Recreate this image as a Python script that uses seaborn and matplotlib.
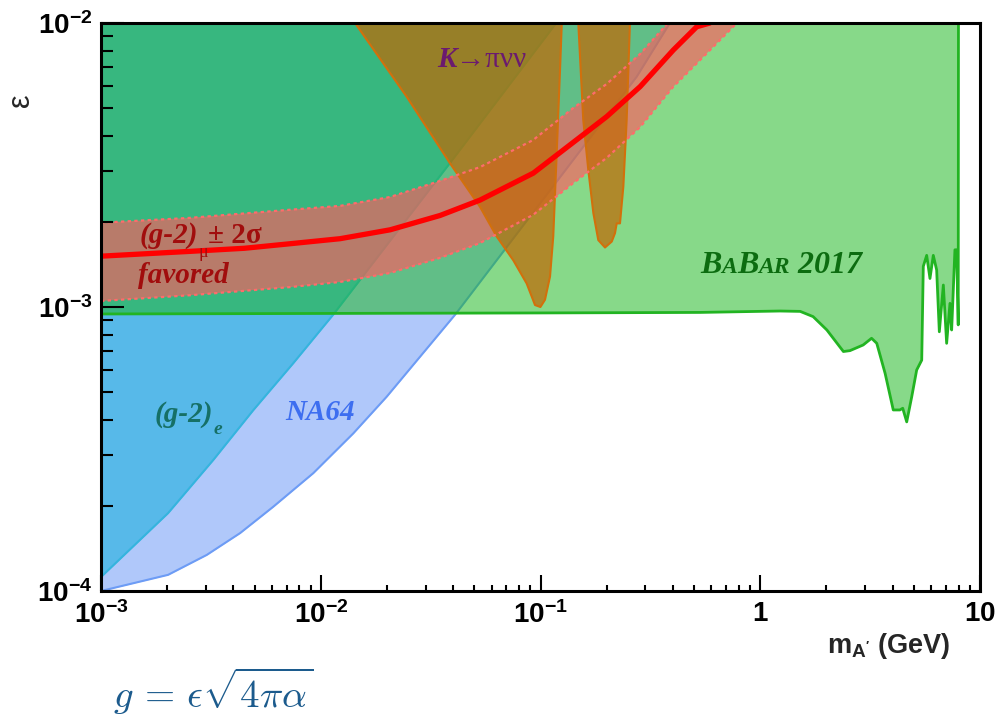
import numpy as np
import matplotlib
matplotlib.use("Agg")
import matplotlib.pyplot as plt
import seaborn as sns
from matplotlib.ticker import FixedLocator, FixedFormatter, LogLocator, NullFormatter

# dark photon exclusion plot: m_A' (GeV) vs epsilon

# NA64 limit (region above the line is excluded)
na64_m = [1e-3, 2.02e-3, 3.03e-3, 4.3e-3, 6.08e-3, 9.25e-3, 0.01407, 0.01995, 0.0283, 0.0409, 0.274, 0.388]
na64_eps = [1.0e-4, 1.14e-4, 1.34e-4, 1.6e-4, 1.98e-4, 2.6e-4, 3.59e-4, 4.83e-4, 6.68e-4, 9.4e-4, 6.47e-3, 1.0e-2]

# electron g-2 limit
g2e_m = [1e-3, 2.02e-3, 3.24e-3, 4.93e-3, 7.5e-3, 0.0114, 0.0387, 0.118]
g2e_eps = [1.12e-4, 1.88e-4, 2.89e-4, 4.33e-4, 6.34e-4, 9.4e-4, 3.21e-3, 1.0e-2]

# BaBar 2017 lower edge of the excluded region
babar_m = [1e-3, 0.1, 0.532, 1.23, 1.52, 1.74, 2.01, 2.39, 2.56, 2.94, 3.21, 3.39, 3.70, 4.03,
           4.32, 4.45, 4.64, 4.89, 5.15, 5.43, 5.52, 5.72, 5.92, 6.13, 6.35, 6.53, 6.81, 7.05,
           7.30, 7.43, 7.69, 7.83, 7.96, 7.98]
babar_eps = [9.45e-4, 9.53e-4, 9.57e-4, 9.68e-4, 9.65e-4, 9.25e-4, 8.3e-4, 6.97e-4, 7.02e-4,
             7.35e-4, 7.76e-4, 7.45e-4, 5.84e-4, 4.34e-4, 4.34e-4, 4.4e-4, 3.94e-4, 4.83e-4,
             6.0e-4, 6.5e-4, 1.39e-3, 1.52e-3, 1.26e-3, 1.52e-3, 1.35e-3, 8.18e-4, 1.195e-3,
             7.45e-4, 1.03e-3, 8.3e-4, 1.59e-3, 1.59e-3, 8.65e-4, 1.0e-2]

# K -> pi nu nu, two islands
k1_m = [0.01432, 0.0246, 0.0387, 0.0531, 0.0632, 0.0752, 0.0865, 0.0944, 0.0999, 0.1048,
        0.1105, 0.1143, 0.1185, 0.1227, 0.125]
k1_eps = [1.0e-2, 5.5e-3, 3.21e-3, 2.25e-3, 1.77e-3, 1.46e-3, 1.21e-3, 1.016e-3, 1.0e-3,
          1.06e-3, 1.28e-3, 1.77e-3, 3.47e-3, 6.83e-3, 1.0e-2]
k2_m = [0.1486, 0.1565, 0.165, 0.174, 0.1832, 0.1966, 0.211, 0.2183, 0.2222, 0.230, 0.2382,
        0.2467, 0.2553]
k2_eps = [1.0e-2, 4.56e-3, 3.04e-3, 2.14e-3, 1.72e-3, 1.62e-3, 1.70e-3, 1.82e-3, 1.97e-3,
          1.97e-3, 2.65e-3, 4.56e-3, 1.0e-2]

# muon g-2 favoured band (+-2 sigma) and central value
g2mu_m = [1e-3, 2.54e-3, 4.5e-3, 7.24e-3, 0.01225, 0.0207, 0.0349, 0.0531, 0.0927, 0.141,
          0.200, 0.284, 0.402, 0.514, 0.59]
g2mu_eps = [1.51e-3, 1.57e-3, 1.61e-3, 1.67e-3, 1.74e-3, 1.87e-3, 2.10e-3, 2.38e-3, 2.96e-3,
            3.80e-3, 4.68e-3, 5.97e-3, 8.03e-3, 9.7e-3, 1.0e-2]
band_hi_m = [1e-3, 2.54e-3, 7.24e-3, 0.01225, 0.0207, 0.0349, 0.0531, 0.0925, 0.140, 0.200,
             0.284, 0.380]
band_hi = [1.98e-3, 2.06e-3, 2.20e-3, 2.27e-3, 2.44e-3, 2.78e-3, 3.11e-3, 3.87e-3, 5.00e-3,
           6.10e-3, 7.78e-3, 1.0e-2]
band_lo_m = [1e-3, 2.54e-3, 7.24e-3, 0.01225, 0.0207, 0.0349, 0.0531, 0.0925, 0.140, 0.200,
             0.284, 0.401, 0.573, 0.783]
band_lo = [1.05e-3, 1.10e-3, 1.175e-3, 1.225e-3, 1.318e-3, 1.49e-3, 1.68e-3, 2.11e-3, 2.72e-3,
           3.35e-3, 4.30e-3, 5.95e-3, 7.84e-3, 1.0e-2]

x_ticks = [1e-3, 1e-2, 1e-1, 1, 10]
x_ticklabels = [r"$\mathbf{10^{-3}}$", r"$\mathbf{10^{-2}}$", r"$\mathbf{10^{-1}}$",
                r"$\mathbf{1}$", r"$\mathbf{10}$"]
y_ticks = [1e-4, 1e-3, 1e-2]
y_ticklabels = [r"$\mathbf{10^{-4}}$", r"$\mathbf{10^{-3}}$", r"$\mathbf{10^{-2}}$"]

sns.set_style("ticks")
plt.rcParams["font.family"] = ["Liberation Sans", "DejaVu Sans"]
plt.rcParams["mathtext.fontset"] = "custom"
plt.rcParams["mathtext.rm"] = "Liberation Sans"
plt.rcParams["mathtext.bf"] = "Liberation Sans:bold"
plt.rcParams["mathtext.it"] = "Liberation Sans:italic"

fig = plt.figure(figsize=(10.01, 7.19), dpi=100)
ax = fig.add_axes([101 / 1001, 1 - 591 / 719, 879 / 1001, 568 / 719])
ax.set_xscale("log")
ax.set_yscale("log")

top = 1e-2
# NA64 and (g-2)_e underneath, BaBar as a translucent layer over them
ax.fill_between(na64_m, na64_eps, top, color="#b0c8fa", lw=0, zorder=1)
ax.plot(na64_m, na64_eps, color="#6d9cf5", lw=1.5, zorder=1.1)
ax.fill_between(g2e_m, g2e_eps, top, color="#57b9e9", lw=0, zorder=2)
ax.plot(g2e_m, g2e_eps, color="#35b4de", lw=1.5, zorder=2.1)
ax.fill_between(babar_m, babar_eps, top, color="#1ab61e", alpha=0.52, lw=0, zorder=3)
sns.lineplot(x=babar_m, y=babar_eps, ax=ax, color="#22b422", lw=2, sort=False,
             estimator=None, zorder=3.1)

# muon g-2 band
ax.fill(np.r_[band_hi_m, band_lo_m[::-1]], np.r_[band_hi, band_lo[::-1]],
        color="#ff5b60", alpha=0.65, lw=0, zorder=4)

# K -> pi nu nu on top of the band
for km, ke in [(k1_m, k1_eps), (k2_m, k2_eps)]:
    ax.fill(km, ke, color="#c16804", alpha=0.7, lw=0, zorder=5)
    ax.plot(km, ke, color="#d2700c", lw=1.5, zorder=5.1)

ax.plot(band_hi_m, band_hi, color="#ff6b6b", lw=1.6, ls=(0, (1.5, 1.5)), zorder=6)
ax.plot(band_lo_m, band_lo, color="#ff6b6b", lw=1.6, ls=(0, (1.5, 1.5)), zorder=6)
sns.lineplot(x=g2mu_m, y=g2mu_eps, ax=ax, color="#ff0000", lw=3.8, sort=False,
             estimator=None, zorder=7)

ax.set_xlim(1e-3, 10)
ax.set_ylim(1e-4, 1e-2)

# axes, ROOT-like ticks
ax.xaxis.set_major_locator(FixedLocator(x_ticks))
ax.xaxis.set_major_formatter(FixedFormatter(x_ticklabels))
ax.xaxis.set_minor_locator(LogLocator(base=10, subs=np.arange(2, 10)))
ax.xaxis.set_minor_formatter(NullFormatter())
ax.yaxis.set_major_locator(FixedLocator(y_ticks))
ax.yaxis.set_major_formatter(FixedFormatter(y_ticklabels))
ax.yaxis.set_minor_locator(LogLocator(base=10, subs=np.arange(2, 10)))
ax.yaxis.set_minor_formatter(NullFormatter())

ax.tick_params(which="both", direction="in", color="black", width=1.5,
               top=False, right=False, labelsize=20, labelcolor="black")
ax.tick_params(axis="x", which="major", length=11.5, pad=7)
ax.tick_params(axis="x", which="minor", length=4.5)
ax.tick_params(axis="y", which="major", length=16.5, pad=6)
ax.tick_params(axis="y", which="minor", length=8.5)
for s in ax.spines.values():
    s.set_linewidth(2.2)
    s.set_color("black")
    s.set_zorder(10)
ax.xaxis.set_zorder(11)
ax.yaxis.set_zorder(11)

ax.set_xlabel(r"m$_{\mathbf{A'}}$ (GeV)", fontsize=19.5, fontweight="bold", ha="right", va="baseline")
ax.xaxis.set_label_coords((950 - 101) / 879, -(653 - 591) / 568)
ax.set_ylabel("ε", fontsize=22, rotation=90, ha="center", va="center")
ax.yaxis.set_label_coords((21 - 101) / 879, 1 - (100 - 23) / 568)


def chain(first_xy, pieces, color):
    """Write text pieces one after another (for subscripts / small caps)."""
    prev = None
    for txt, size, dy, style in pieces:
        kw = dict(fontsize=size, color=color, family=["Liberation Serif", "DejaVu Serif"],
                  zorder=12, **style)
        if prev is None:
            prev = ax.annotate(txt, xy=first_xy, xycoords="data", ha="left", va="baseline", **kw)
        else:
            prev = ax.annotate(txt, xy=(1, 0), xycoords=prev, xytext=(0, dy),
                               textcoords="offset points", ha="left", va="bottom", **kw)


bi = dict(fontweight="bold", fontstyle="italic")
rg = dict(fontweight="normal", fontstyle="normal")
bd = dict(fontweight="bold", fontstyle="normal")

chain((0.0338, 7.02e-3), [("K", 21, 0, bi), ("→πνν", 21, 0, rg)], "#6b1a6f")
chain((1.505e-3, 1.69e-3), [("(g-2)", 21, 0, bi), ("μ", 13, -9, rg), ("± 2σ", 21, 9, bd)],
      "#a10d0d")
chain((1.47e-3, 1.215e-3), [("favored", 21, 0, bi)], "#a10d0d")
chain((1.76e-3, 3.94e-4), [("(g-2)", 21, 0, bi), ("e", 14, -6.7, bi)], "#167066")
chain((6.87e-3, 4.0e-4), [("NA64", 21, 0, bi)], "#3d6ef0")
chain((0.532, 1.315e-3), [("B", 23, 0, bi), ("A", 17, 1.3, bi), ("B", 23, -1.3, bi),
                          ("AR", 17, 1.3, bi), (" 2017", 23, -1.3, bi)], "#0c6c10")

fig.text(113 / 1001, 1 - 708 / 719, r"$g\,=\,\epsilon\sqrt{4\pi\alpha}$", fontsize=28,
         color="#1c5b8d", math_fontfamily="cm", ha="left", va="baseline")

fig.savefig("out.png", dpi=100)
